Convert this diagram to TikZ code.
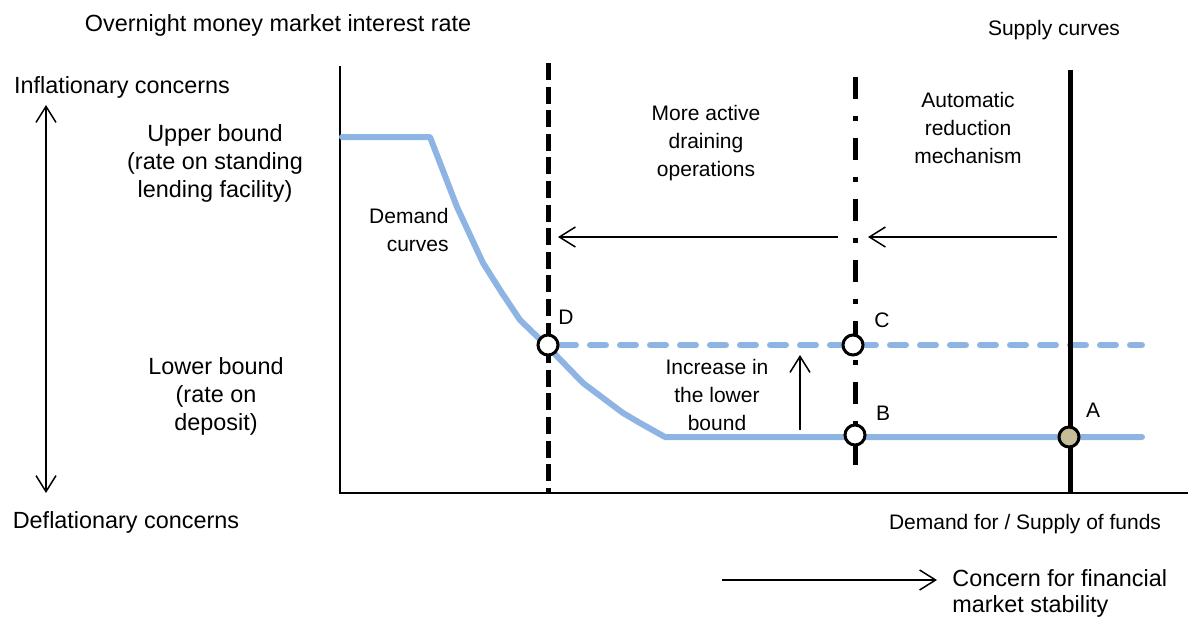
\documentclass[tikz,border=0pt]{standalone}
\usepackage{fontspec}
\setmainfont{Liberation Sans}
\usetikzlibrary{positioning, arrows.meta}
\definecolor{curveblue}{HTML}{8EB4E3}
\definecolor{pointtan}{HTML}{C4BD97}
\tikzset{
	>={Straight Barb[length=8pt,width=10pt]},
	every node/.style={font=\fontsize{10.5}{14}\selectfont, align=center, inner sep=0pt},
	outer/.style={font=\fontsize{11.7}{14}\selectfont},
	axis/.style={line width=0.8pt},
	demand/.style={curveblue, line width=3pt, line join=round, line cap=round},
	supply/.style={line width=2.5pt},
	movearrow/.style={->, line width=0.75pt},
	point/.style={circle, draw=black, line width=1.5pt, fill=white, minimum size=10pt}
}

\begin{document}
\begin{tikzpicture}
	[ x=0.5pt, y=-0.5pt ]
	\useasboundingbox (0,0) rectangle (1188,616);
	% texts round the axes
	\node[outer] (ylabel) at (278,25) {Overnight money market interest rate};
	\node (slabel) at (1054,30) {Supply curves};
	\node[outer] (infl) at (122,87) {Inflationary concerns};
	\node[outer] (defl) at (126,522) {Deflationary concerns};
	\node[outer] (upper) at (215,163) {Upper bound\\(rate on standing\\lending facility)};
	\node[outer] (lower) at (216,396) {Lower bound\\(rate on\\deposit)};
	\node (xlabel) at (1025,524) {Demand for / Supply of funds};
	\node[outer, align=left, anchor=west, font=\fontsize{11.7}{13}\selectfont] (fin) at (952,593) {Concern for financial\\market stability};
	\node[align=right, anchor=east] (dlabel) at (449,230) {Demand\\curves};
	\node (drain) at (706,143) {More active\\draining\\operations};
	\node (auto) at (968,128) {Automatic\\reduction\\mechanism};
	\node (incr) at (717,395) {Increase in\\the lower\\bound};

	% axes
	\coordinate (origin) at (340,493);
	\coordinate (ytop) at (340,66);
	\coordinate (xend) at (1188,493);
	\draw[axis] (ytop) -- (origin) -- (xend);

	% demand curves
	\draw[demand] (342,137) -- (430,137) -- (457,207) -- (483,263) -- (502,293)
		-- (520,320) -- (548,347) -- (583,383) -- (623,413) -- (640,423)
		-- (665,437) -- (1142,437);
	\draw[demand, dash pattern=on 8pt off 7pt] (560,345) -- (1142,345);

	% supply curves
	\draw[supply, dash pattern=on 8.5pt off 3.3pt] (548,63) -- (548,493);
	\draw[supply, dash pattern=on 11pt off 8.5pt on 2.5pt off 8.5pt] (855,77) -- (855,480);
	\draw[supply] (1070,70) -- (1070,493);

	% points
	\node[point] (D) at (548,345) {};
	\node[point] (C) at (853,345) {};
	\node[point] (B) at (855,435) {};
	\node[point, fill=pointtan] (A) at (1069,437) {};
	\node (Dlab) at (566,317) {D};
	\node (Clab) at (882,320) {C};
	\node (Blab) at (883,413) {B};
	\node (Alab) at (1093,410) {A};

	% arrows
	\coordinate (s1) at (838,237);
	\coordinate (e1) at (558,237);
	\coordinate (s2) at (1057,237);
	\coordinate (e2) at (868,237);
	\coordinate (s3) at (800,430);
	\coordinate (e3) at (800,355);
	\coordinate (s4) at (722,580);
	\coordinate (e4) at (937,580);
	\coordinate (up) at (46,105);
	\coordinate (down) at (46,493);
	\draw[movearrow] (s1) -- (e1);
	\draw[movearrow] (s2) -- (e2);
	\draw[movearrow] (s3) -- (e3);
	\draw[movearrow] (s4) -- (e4);
	\draw[movearrow, <->] (up) -- (down);
\end{tikzpicture}
\end{document}
